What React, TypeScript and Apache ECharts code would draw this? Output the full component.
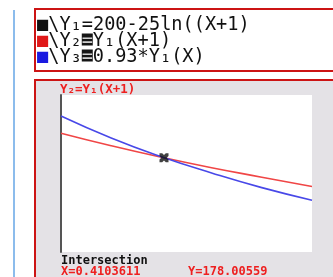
import React, { useEffect, useRef } from "react";
import * as echarts from "echarts";

const xValues = [0, 0.2, 0.4, 0.6, 0.8, 1.0];
const y2Values = [182.7, 180.3, 178.1, 176.1, 174.3, 172.5];
const y3Values = [186.0, 181.8, 178.2, 175.1, 172.3, 169.9];
const intersection = [0.4103611, 178.00559];
const editorLines = [
  { color: "#111111", sel: false, text: "Y₁", rest: "200-25ln((X+1)" },
  { color: "#e01818", sel: true, text: "Y₂", rest: "Y₁(X+1)" },
  { color: "#1a1ae0", sel: true, text: "Y₃", rest: "0.93*Y₁(X)" },
];
const graphTitle = "Y₂=Y₁(X+1)";
const bottomTitle = "Intersection";
const xLabel = "X=0.4103611";
const yLabel = "Y=178.00559";

const MONO = "'DejaVu Sans Mono', monospace";
const FS = 18.6;

export default function App() {
  const ref = useRef<HTMLDivElement>(null);
  useEffect(() => {
    const chart = echarts.init(ref.current!, null, { renderer: "svg" });
    const editorTexts = editorLines.map((l, i) => ({
      type: "text",
      left: 37,
      top: 14 + i * 16,
      z: 5,
      style: {
        text: `{sq|■}{t|\\${l.text}}{${l.sel ? "hl" : "t"}|=}{t|${l.rest}}`,
        rich: {
          sq: { fontFamily: MONO, fontSize: FS, lineHeight: 14, fill: l.color, color: l.color },
          t: { fontFamily: MONO, fontSize: FS, lineHeight: 14, fill: "#111", color: "#111" },
          hl: {
            fontFamily: MONO,
            fontSize: FS,
            lineHeight: 14,
            fill: "#cfcfcf",
            color: "#cfcfcf",
            backgroundColor: "#151515",
            width: 11,
            height: 12,
            align: "center",
          },
        },
      },
    }));
    const small = (text: string, left: number, top: number, fill: string, fontSize = 12) => ({
      type: "text",
      left,
      top,
      z: 5,
      style: { text, fontFamily: MONO, fontWeight: "bold", fontSize, lineHeight: 11, fill },
    });
    chart.setOption({
      animation: false,
      grid: { left: 61, top: 95, width: 251, height: 157 },
      xAxis: {
        type: "value",
        min: 0,
        max: 1,
        show: false,
      },
      yAxis: {
        type: "value",
        min: 160,
        max: 190,
        axisLine: { show: true, onZero: false, lineStyle: { color: "#555", width: 2 } },
        axisTick: { show: false },
        axisLabel: { show: false },
        splitLine: { show: false },
      },
      graphic: [
        { type: "line", shape: { x1: 14, y1: 10, x2: 14, y2: 277 }, style: { stroke: "#8cbcec", lineWidth: 2 }, z: -1 },
        { type: "rect", shape: { x: 35, y: 9, width: 320, height: 62 }, style: { fill: "#ffffff", stroke: "#cc1414", lineWidth: 2 }, z: -1 },
        { type: "rect", shape: { x: 35, y: 80, width: 320, height: 220 }, style: { fill: "#e4e2e6", stroke: "#cc1414", lineWidth: 2 }, z: -1 },
        { type: "rect", shape: { x: 61, y: 95, width: 251, height: 157 }, style: { fill: "#ffffff" }, z: -1 },
        ...editorTexts,
        small(graphTitle, 60, 82, "#ee2020", 12.5),
        small(bottomTitle, 61, 254, "#111"),
        small(xLabel, 61, 264.5, "#ee2020"),
        small(yLabel, 188, 264.5, "#ee2020"),
      ],
      series: [
        {
          type: "line",
          data: xValues.map((x, i) => [x, y2Values[i]]),
          showSymbol: false,
          smooth: true,
          lineStyle: { color: "#f04646", width: 1.6 },
        },
        {
          type: "line",
          data: xValues.map((x, i) => [x, y3Values[i]]),
          showSymbol: false,
          smooth: true,
          lineStyle: { color: "#4848e8", width: 1.6 },
        },
        {
          type: "scatter",
          data: [intersection],
          symbol:
            "path://M0,0 L3,0 L5,2 L7,0 L10,0 L10,3 L8,5 L10,7 L10,10 L7,10 L5,8 L3,10 L0,10 L0,7 L2,5 L0,3 Z",
          symbolSize: 9,
          itemStyle: { color: "#111" },
          z: 10,
        },
      ],
    });
    return () => chart.dispose();
  }, []);
  return <div ref={ref} style={{ position: "fixed", left: 0, top: 0, width: 333, height: 277 }} />;
}
